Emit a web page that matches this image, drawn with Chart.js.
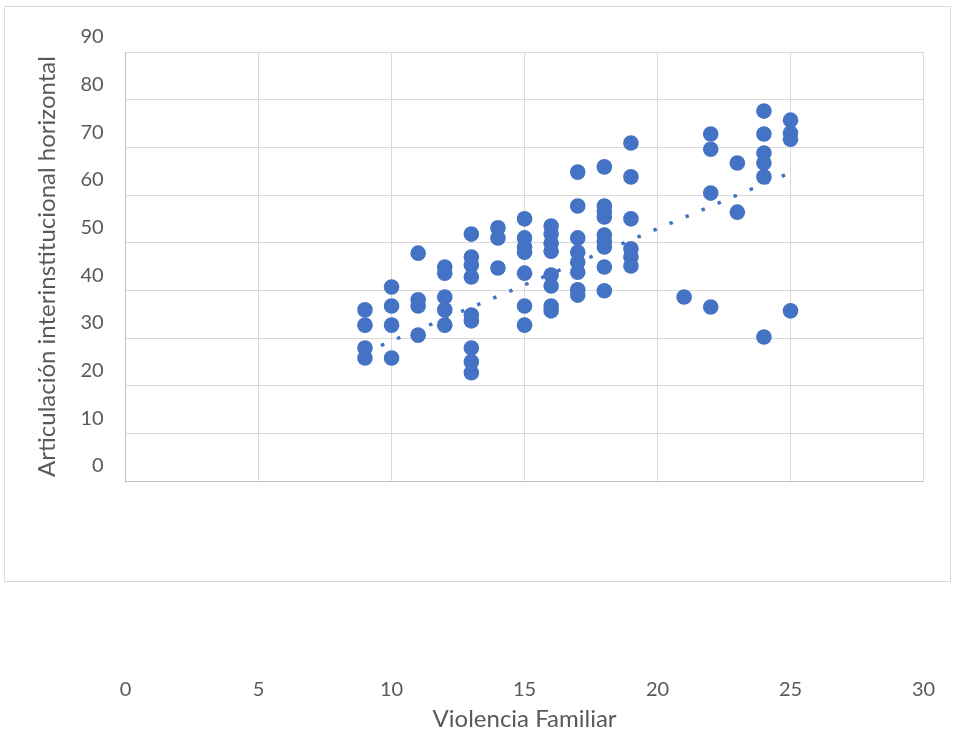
<!DOCTYPE html>
<html>
<head>
<meta charset="utf-8">
<title>Violencia Familiar vs Articulación</title>
<script src="https://cdn.jsdelivr.net/npm/chart.js@4/dist/chart.umd.min.js"></script>
<style>
  html, body { margin: 0; padding: 0; background: #fff; }
  #wrap { width: 954px; height: 740px; position: relative; }
</style>
</head>
<body>
<div id="wrap"><canvas id="scatterChart"></canvas></div>
<script>
// x values (Violencia Familiar), one per point
const violencia = [
  9, 9, 9, 9,
  10, 10, 10, 10,
  11, 11, 11, 11,
  12, 12, 12, 12, 12,
  13, 13, 13, 13, 13, 13, 13, 13, 13,
  14, 14, 14,
  15, 15, 15, 15, 15, 15, 15,
  16, 16, 16, 16, 16, 16, 16, 16,
  17, 17, 17, 17, 17, 17, 17, 17,
  18, 18, 18, 18, 18, 18, 18, 18, 18,
  19, 19, 19, 19, 19, 19,
  21,
  22, 22, 22, 22,
  23, 23,
  24, 24, 24, 24, 24, 24,
  25, 25, 25, 25
];

// y values (Articulación interinstitucional horizontal), same order
const articulacion = [
  35.9, 32.7, 27.9, 25.8,
  40.7, 36.7, 32.7, 25.8,
  47.8, 38.0, 36.7, 30.6,
  44.9, 43.6, 38.6, 35.9, 32.7,
  51.8, 47.0, 45.3, 42.8, 34.8, 33.6, 27.9, 25.0, 22.7,
  53.1, 51.0, 44.7,
  55.0, 51.0, 49.1, 48.0, 43.6, 36.7, 32.7,
  53.5, 51.8, 49.9, 48.2, 43.2, 40.9, 36.7, 35.7,
  64.8, 57.7, 51.0, 48.0, 45.9, 43.8, 40.1, 39.0,
  65.9, 57.7, 56.6, 55.4, 51.6, 50.3, 49.1, 44.9, 39.9,
  70.9, 63.8, 55.0, 48.7, 47.0, 45.1,
  38.6,
  72.8, 69.6, 60.4, 36.5,
  66.7, 56.4,
  77.6, 72.8, 68.8, 66.7, 63.8, 30.2,
  75.7, 73.0, 71.7, 35.7
];

// linear trendline end points
const trendX = [9, 25];
const trendY = [27.0, 64.7];

const xTicks = [0, 5, 10, 15, 20, 25, 30];
const yTicks = [0, 10, 20, 30, 40, 50, 60, 70, 80, 90];

const blue = '#4472C4';
const textGrey = '#595959';
const gridGrey = '#d9d9d9';
const axisGrey = '#bfbfbf';
const fontFamily = 'Lato, "Open Sans", sans-serif';

// Excel-like chart area frame behind everything
const frame = {
  id: 'frame',
  beforeDraw(chart) {
    const ctx = chart.ctx;
    ctx.save();
    ctx.fillStyle = '#fff';
    ctx.fillRect(0, 0, chart.width, chart.height);
    ctx.strokeStyle = gridGrey;
    ctx.lineWidth = 1;
    ctx.strokeRect(4.5, 6.5, 946, 575);
    ctx.restore();
  }
};

const points = violencia.map((x, i) => ({ x: x, y: articulacion[i] }));
const trend = trendX.map((x, i) => ({ x: x, y: trendY[i] }));

new Chart(document.getElementById('scatterChart'), {
  type: 'scatter',
  data: {
    datasets: [
      {
        label: 'Articulación interinstitucional horizontal',
        data: points,
        backgroundColor: blue,
        borderColor: blue,
        pointRadius: 7.8,
        pointBorderWidth: 0,
        order: 2
      },
      {
        label: 'Lineal',
        type: 'line',
        data: trend,
        borderColor: blue,
        borderWidth: 3.5,
        borderDash: [3.5, 13.9],
        pointRadius: 0,
        fill: false,
        order: 1
      }
    ]
  },
  options: {
    responsive: true,
    maintainAspectRatio: false,
    animation: false,
    layout: { padding: { left: 0, top: 52, right: 30.5, bottom: 0 } },
    plugins: {
      legend: { display: false },
      tooltip: { enabled: false }
    },
    scales: {
      x: {
        type: 'linear',
        min: 0,
        max: 30,
        afterBuildTicks: s => { s.ticks = xTicks.map(v => ({ value: v })); },
        afterFit: s => {
          // labels sit far below the plot; keep the big tick padding from widening the sides
          s.height = 259;
          s.paddingLeft = 0;
          s.paddingRight = 0;
        },
        grid: { color: gridGrey, drawTicks: false },
        border: { color: axisGrey, width: 1 },
        ticks: {
          color: textGrey,
          padding: 197,
          maxRotation: 0,
          font: { family: fontFamily, size: 20 }
        },
        title: {
          display: true,
          text: 'Violencia Familiar',
          color: textGrey,
          padding: { top: 0, bottom: 6 },
          font: { family: fontFamily, size: 24 }
        }
      },
      y: {
        type: 'linear',
        min: 0,
        max: 90,
        afterBuildTicks: s => { s.ticks = yTicks.map(v => ({ value: v })); },
        afterFit: s => {
          s.width = 125.6;
          s.paddingTop = 0;
          s.paddingBottom = 0;
        },
        grid: { color: gridGrey, drawTicks: false },
        border: { color: axisGrey, width: 1 },
        ticks: {
          color: textGrey,
          padding: 22,
          labelOffset: -15,
          font: { family: fontFamily, size: 20 }
        },
        title: {
          display: true,
          text: 'Articulación interinstitucional horizontal',
          color: textGrey,
          padding: { top: 33, bottom: 0 },
          font: { family: fontFamily, size: 24 }
        }
      }
    }
  },
  plugins: [frame]
});
</script>
</body>
</html>
